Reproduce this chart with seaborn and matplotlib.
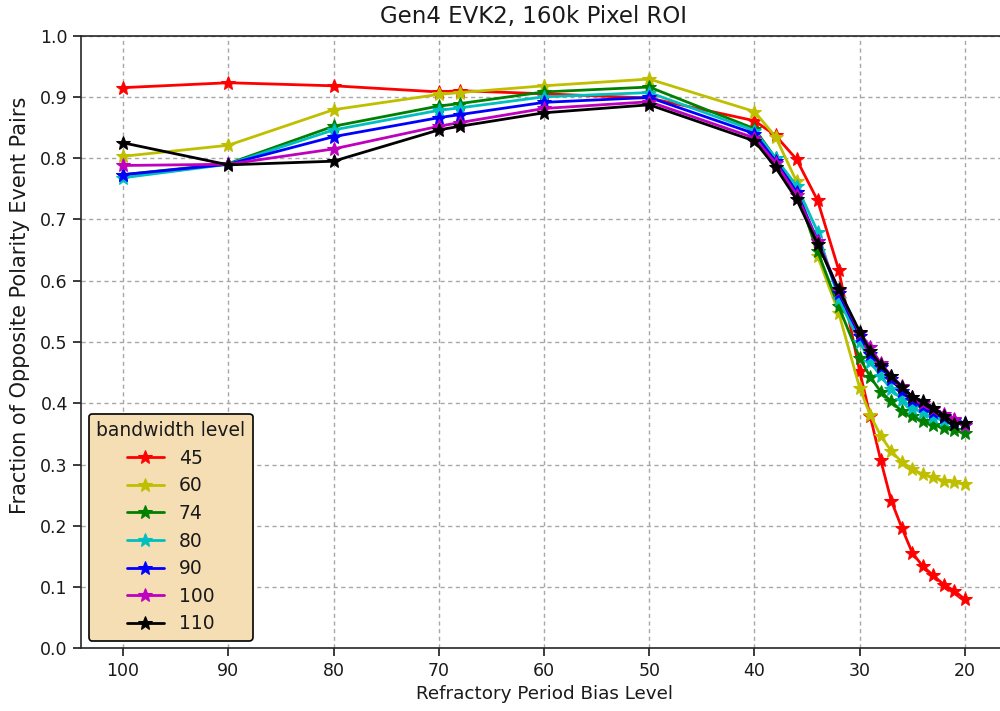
import numpy as np
import pandas as pd
import matplotlib
matplotlib.use("Agg")
import matplotlib.pyplot as plt
import seaborn as sns

bias_level = [100, 90, 80, 70, 68, 60, 50, 40, 38, 36, 34, 32, 30, 29, 28, 27, 26, 25, 24, 23, 22, 21, 20]

bw45 = [0.915, 0.923, 0.918, 0.908, 0.910, 0.905, 0.898, 0.861, 0.837, 0.798, 0.731, 0.618,
        0.452, 0.379, 0.307, 0.241, 0.197, 0.156, 0.134, 0.119, 0.104, 0.094, 0.080]
bw60 = [0.803, 0.821, 0.879, 0.904, 0.907, 0.918, 0.929, 0.876, 0.835, 0.762, 0.640, 0.548,
        0.425, 0.381, 0.347, 0.322, 0.304, 0.293, 0.284, 0.279, 0.274, 0.271, 0.268]
bw74 = [0.773, 0.791, 0.852, 0.885, 0.889, 0.908, 0.916, 0.848, 0.800, 0.745, 0.648, 0.558,
        0.474, 0.443, 0.419, 0.403, 0.387, 0.379, 0.371, 0.365, 0.360, 0.356, 0.351]
bw80 = [0.768, 0.790, 0.846, 0.878, 0.882, 0.900, 0.907, 0.845, 0.800, 0.755, 0.680, 0.570,
        0.500, 0.468, 0.444, 0.423, 0.406, 0.393, 0.385, 0.377, 0.372, 0.369, 0.364]
bw90 = [0.773, 0.790, 0.835, 0.866, 0.871, 0.891, 0.899, 0.840, 0.795, 0.745, 0.665, 0.580,
        0.510, 0.480, 0.460, 0.440, 0.420, 0.405, 0.395, 0.385, 0.378, 0.372, 0.368]
bw100 = [0.788, 0.790, 0.815, 0.852, 0.858, 0.881, 0.892, 0.833, 0.792, 0.740, 0.665, 0.585,
         0.515, 0.492, 0.465, 0.445, 0.428, 0.410, 0.400, 0.390, 0.383, 0.375, 0.365]
bw110 = [0.825, 0.789, 0.795, 0.846, 0.852, 0.874, 0.887, 0.828, 0.785, 0.733, 0.660, 0.586,
         0.517, 0.485, 0.463, 0.444, 0.427, 0.411, 0.403, 0.393, 0.380, 0.367, 0.368]

bandwidth_labels = ["45", "60", "74", "80", "90", "100", "110"]
series = [bw45, bw60, bw74, bw80, bw90, bw100, bw110]
colors = ["r", "y", "g", "c", "b", "m", "k"]

sns.set_style("ticks")
plt.rcParams['font.family'] = ['DejaVu Sans']
plt.rcParams['text.color'] = '#1a1a1a'
plt.rcParams['axes.labelcolor'] = '#1a1a1a'
plt.rcParams['xtick.color'] = '#1a1a1a'
plt.rcParams['ytick.color'] = '#1a1a1a'

fig = plt.figure(figsize=(10, 7.11), dpi=100)
ax = fig.add_axes([0.081, 0.088, 0.926, 0.862])

for lab, vals, col in zip(bandwidth_labels, series, colors):
    df = pd.DataFrame({"x": bias_level, "y": vals})
    sns.lineplot(data=df, x="x", y="y", ax=ax, color=col, marker="*",
                 markersize=10, markeredgecolor=col, linewidth=2, label=lab,
                 sort=False)

ax.set_xlim(104, 16)
ax.set_ylim(0, 1.0)
ax.set_xticks([100, 90, 80, 70, 60, 50, 40, 30, 20])
ax.set_yticks(np.arange(0, 1.01, 0.1))
ax.set_yticklabels([f"{v:.1f}" for v in np.arange(0, 1.01, 0.1)])
ax.grid(True, linestyle=(0, (3, 2.5)), color="#a8a8a8", linewidth=1.0)
ax.tick_params(labelsize=12.5, length=6, width=1.2)
for s in ax.spines.values():
    s.set_linewidth(1.2)

ax.set_xlabel("Refractory Period Bias Level", fontsize=13.2)
ax.set_ylabel("Fraction of Opposite Polarity Event Pairs", fontsize=15)
ax.yaxis.set_label_coords(-0.055, 0.56)
ax.set_title("Gen4 EVK2, 160k Pixel ROI", fontsize=16.5, x=0.489, pad=9)

leg = ax.legend(title="bandwidth level", loc="lower left", fontsize=13.5,
                title_fontsize=13.5, facecolor="wheat", edgecolor="black",
                framealpha=1, fancybox=True, labelspacing=0.46,
                borderaxespad=0.4)
leg.get_frame().set_linewidth(1.2)

fig.savefig("out.png", dpi=100)
